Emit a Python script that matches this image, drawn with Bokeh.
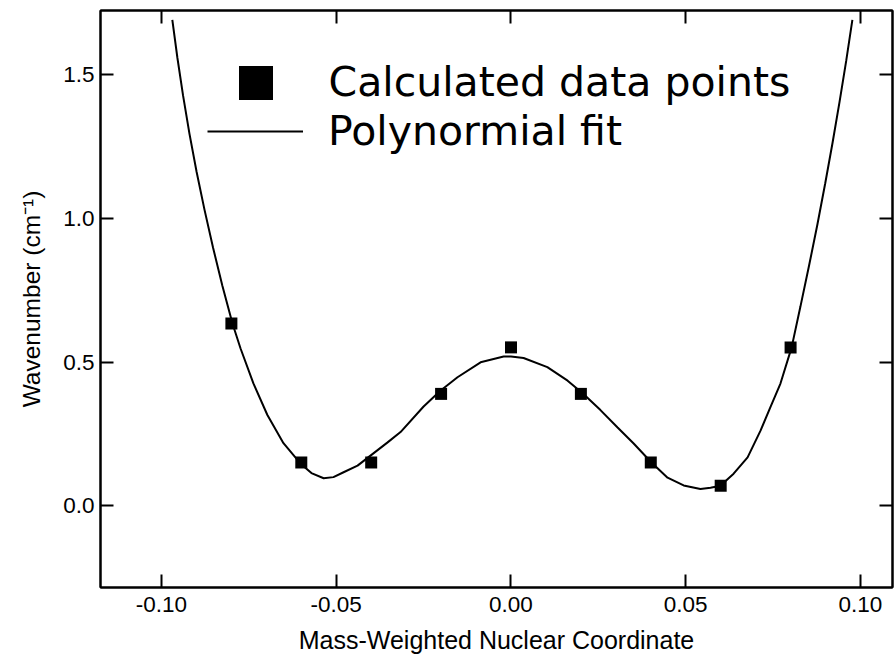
from bokeh.plotting import figure
from bokeh.models import (LinearAxis, FixedTicker, NumeralTickFormatter, Range1d,
                          Legend, LegendItem)
from bokeh.embed import file_html
from bokeh.resources import INLINE

# ---- data ----
point_x = [-0.08, -0.06, -0.04, -0.02, 0.00, 0.02, 0.04, 0.06, 0.08]
point_y = [0.634, 0.150, 0.150, 0.389, 0.551, 0.389, 0.150, 0.069, 0.551]

fit_x = [-0.0969, -0.09545, -0.09382, -0.09199, -0.08996, -0.08770, -0.08524, -0.08258,
         -0.07969, -0.0774, -0.0737, -0.0697, -0.0651, -0.0602, -0.0571, -0.0536,
         -0.0508, -0.0479,
         -0.0439, -0.0402, -0.0353, -0.0316, -0.0250, -0.0202, -0.0153, -0.0087,
         -0.0021, 0.0000, 0.0036, 0.0104, 0.0162, 0.0205, 0.0256, 0.0305,
         0.0351, 0.0402, 0.0448, 0.0494, 0.0542, 0.0571, 0.0599, 0.0637,
         0.0677, 0.0714, 0.0742, 0.0771, 0.0803, 0.08283, 0.08529, 0.08767,
         0.08990, 0.09201, 0.09402, 0.09591, 0.09768]
fit_y = [1.692, 1.560, 1.428, 1.295, 1.163, 1.031, 0.898, 0.766,
         0.634, 0.548, 0.4255, 0.3155, 0.2173, 0.146, 0.113, 0.095,
         0.099, 0.116,
         0.139, 0.174, 0.220, 0.256, 0.345, 0.400, 0.447, 0.499,
         0.519, 0.519, 0.514, 0.482, 0.435, 0.391, 0.3325, 0.272,
         0.216, 0.150, 0.097, 0.070, 0.058, 0.062, 0.069, 0.111,
         0.168, 0.261, 0.342, 0.425, 0.551, 0.694, 0.836, 0.979,
         1.122, 1.264, 1.407, 1.549, 1.692]

x_ticks = [-0.10, -0.05, 0.00, 0.05, 0.10]
y_ticks = [0.0, 0.5, 1.0, 1.5]
legend_labels = ["Calculated data points", "Polynormial fit"]
x_title = "Mass-Weighted Nuclear Coordinate"
y_title = "Wavenumber (cm\u207b\u00b9)"

# ---- layout ----
W, H = 894, 660
FL, FR, FT, FB = 100, 892, 10, 587
X0, X1 = -0.11745, 0.10916
Y0, Y1 = -0.2855, 1.7246

p = figure(width=W, height=H, output_backend="svg", toolbar_location=None,
           x_range=Range1d(X0, X1), y_range=Range1d(Y0, Y1),
           x_axis_location=None, y_axis_location=None,
           min_border_left=FL, min_border_right=W - FR,
           min_border_top=FT, min_border_bottom=H - FB)
p.grid.visible = False
p.background_fill_color = "white"
p.border_fill_color = "white"
p.outline_line_color = "black"
p.outline_line_width = 2

tick_font = "Liberation Sans"

def make_axis(show_labels, ticks):
    ax = LinearAxis()
    ax.ticker = FixedTicker(ticks=ticks)
    ax.axis_line_color = "black"
    ax.axis_line_width = 2
    ax.major_tick_in = 13
    ax.major_tick_out = 0
    ax.major_tick_line_width = 2
    ax.major_tick_line_color = "black"
    ax.minor_tick_line_color = None
    ax.major_label_text_font = tick_font
    ax.major_label_text_color = "black"
    ax.axis_label_text_font = tick_font
    ax.axis_label_text_font_style = "normal"
    ax.axis_label_text_color = "black"
    if show_labels:
        ax.major_label_text_font_size = "22.5px"
    else:
        ax.major_label_overrides = {t: "" for t in ticks}
        ax.major_label_text_font_size = "1px"
        ax.major_label_standoff = 0
    return ax

bx = make_axis(True, x_ticks)
bx.formatter = NumeralTickFormatter(format="0.00")
bx.major_label_standoff = 9
bx.axis_label = x_title
bx.axis_label_text_font_size = "25px"
bx.axis_label_standoff = 11
p.add_layout(bx, "below")

ly = make_axis(True, y_ticks)
ly.formatter = NumeralTickFormatter(format="0.0")
ly.major_label_standoff = 6
ly.axis_label = y_title
ly.axis_label_text_font_size = "24.5px"
ly.axis_label_standoff = 15
p.add_layout(ly, "left")

p.add_layout(make_axis(False, x_ticks), "above")
p.add_layout(make_axis(False, y_ticks), "right")

# ---- glyphs ----
line_r = p.line(fit_x, fit_y, line_color="black", line_width=2)
pts_r = p.scatter(point_x, point_y, marker="square", size=12,
                  fill_color="black", line_color="black", line_width=0)

# ---- legends (two single-item legends for exact positioning) ----
leg1 = Legend(items=[LegendItem(label=legend_labels[0], renderers=[pts_r])],
              location=(212.5 - FL, FB - 124.5),
              glyph_width=85, glyph_height=85, label_standoff=31,
              padding=0, margin=0, spacing=0,
              border_line_color=None, background_fill_alpha=0,
              label_text_font="DejaVu Sans", label_text_font_size="41px",
              label_text_color="black")
leg2 = Legend(items=[LegendItem(label=legend_labels[1], renderers=[line_r])],
              location=(207 - FL, FB - 161),
              glyph_width=96, glyph_height=60, label_standoff=25,
              padding=0, margin=0, spacing=0,
              border_line_color=None, background_fill_alpha=0,
              label_text_font="DejaVu Sans", label_text_font_size="41px",
              label_text_color="black")
p.add_layout(leg1, "center")
p.add_layout(leg2, "center")

open("out.html", "w").write(file_html(p, INLINE))
